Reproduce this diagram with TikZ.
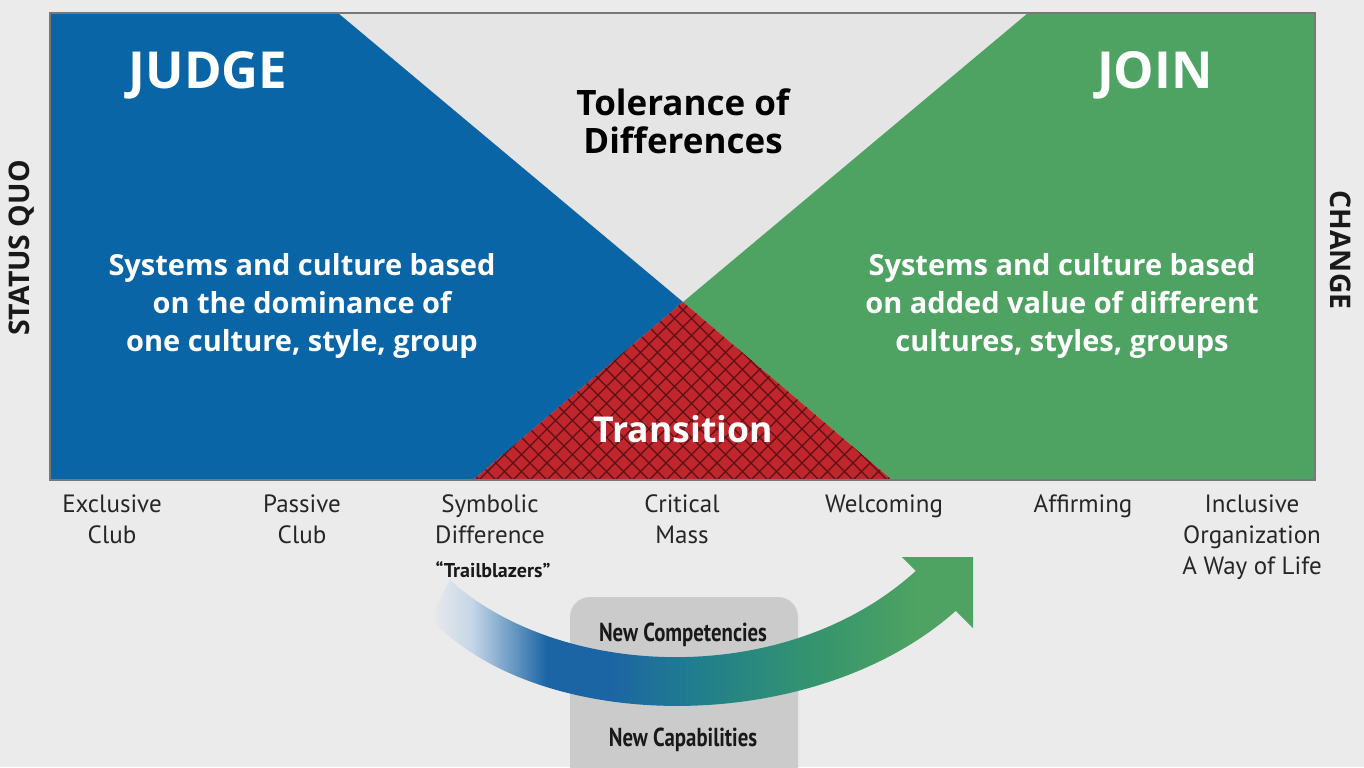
\documentclass[tikz,border=0pt]{standalone}
\usepackage{fontspec}
\setmainfont{PT Sans}
\newfontfamily\narrowfont[FakeStretch=0.8]{PT Sans}
\newfontfamily\widefont{Open Sans}

\definecolor{paper}{RGB}{235,235,235}
\definecolor{tolgrey}{RGB}{229,229,229}
\definecolor{framegrey}{RGB}{120,120,120}
\definecolor{judgeblue}{RGB}{10,101,166}
\definecolor{joingreen}{RGB}{78,163,98}
\definecolor{transred}{RGB}{192,38,44}
\definecolor{hatchred}{RGB}{90,16,20}
\definecolor{boxgrey}{RGB}{203,203,203}
\definecolor{trailpale}{RGB}{196,214,232}
\definecolor{trailblue}{RGB}{28,101,164}
\definecolor{trailteal}{RGB}{32,126,142}
\definecolor{trailsea}{RGB}{52,148,110}

% the bent arrow fades in from the left, turns blue, then green
\pgfdeclarehorizontalshading{trailshade}{100bp}{color(0bp)=(paper); color(25bp)=(paper);
  color(29bp)=(trailpale); color(36bp)=(trailblue); color(42bp)=(trailblue);
  color(50bp)=(trailteal); color(61bp)=(trailsea); color(71bp)=(joingreen);
  color(100bp)=(joingreen)}

\begin{document}
\begin{tikzpicture}[
        x=0.5pt, y=-0.5pt,
        font=\fontsize{12.5}{15.5}\selectfont,
        stage/.style={anchor=north, align=center, inner sep=0pt, text=black!85},
        heading/.style={text=white, font=\widefont\fontsize{25.5}{30}\selectfont\bfseries},
        claim/.style={text=white, align=center, font=\widefont\fontsize{14.5}{19}\selectfont\bfseries},
        side/.style={text=black!90, font=\widefont\fontsize{14.2}{18}\selectfont\bfseries},
        gain/.style={text=black!90, font=\narrowfont\fontsize{13}{15}\selectfont\bfseries},
        hatch/.style={draw=hatchred, line width=0.6pt}
    ]
    \fill[paper] (0,0) rectangle (1364,767);
    \useasboundingbox (0,0) rectangle (1364,767);

    % fields
    \fill[tolgrey] (338,13) -- (1028,13) -- (683,302) -- cycle;
    \fill[judgeblue] (50,13) -- (338,13) -- (683,302) -- (473,480) -- (50,480) -- cycle;
    \fill[joingreen] (1028,13) -- (1315,13) -- (1315,480) -- (892,480) -- (683,302) -- cycle;
    \fill[transred] (683,302) -- (892,480) -- (473,480) -- cycle;
    \begin{scope}
        \clip (683,302) -- (892,480) -- (473,480) -- cycle;
        \foreach \x in {292,309,...,1080} {
            \draw[hatch] (\x,480) -- ++(-200,-200);
            \draw[hatch] (\x,480) -- ++(200,-200);
        }
    \end{scope}
    \draw[framegrey, line width=0.6pt] (50,13) rectangle (1315,480);

    % field texts
    \node[heading] (judge) at (208,75) {JUDGE};
    \node[heading] (join) at (1155,75) {JOIN};
    \node[align=center, font=\widefont\fontsize{17.5}{19}\selectfont\bfseries] (tolerance) at (683,121)
        {Tolerance of\\Differences};
    \node[claim] (dominance) at (302,306)
        {Systems and culture based\\on the dominance of\\one culture, style, group};
    \node[claim] (addedvalue) at (1062,306)
        {Systems and culture based\\on added value of different\\cultures, styles, groups};
    \node[text=white, font=\widefont\fontsize{17.8}{24}\selectfont\bfseries] (transition) at (683,429) {Transition};
    \node[side, rotate=90] (statusquo) at (22,248) {STATUS QUO};
    \node[side, rotate=-90] (change) at (1341,250) {CHANGE};

    % stages
    \node[stage] (stage1) at (112,494) {Exclusive\\Club};
    \node[stage] (stage2) at (302,494) {Passive\\Club};
    \node[stage] (stage3) at (490,494) {Symbolic\\Difference};
    \node[stage] (stage4) at (682,494) {Critical\\Mass};
    \node[stage] (stage5) at (884,494) {Welcoming};
    \node[stage] (stage6) at (1083,494) {Affirming};
    \node[stage] (stage7) at (1252,494) {Inclusive\\Organization\\A Way of Life};
    \node[text=black!90, font=\fontsize{10}{12}\selectfont\bfseries] (trailblazers) at (493,570)
        {``Trailblazers''};

    % box under the arrow
    \fill[boxgrey, rounded corners=10pt] (570,597) rectangle (798,820);
    \node[gain] (competencies) at (683,635) {New Competencies};
    \node[gain] (capabilities) at (683,740) {New Capabilities};

    % bent arrow
    \shade[shading=trailshade] (450,580) .. controls (560,680) and (790,690) .. (920,567)
        -- (960,607) .. controls (820,737) and (540,737) .. (430,618) -- cycle;
    \fill[joingreen] (902,557) -- (973,557) -- (973,628) -- cycle;
\end{tikzpicture}
\end{document}
